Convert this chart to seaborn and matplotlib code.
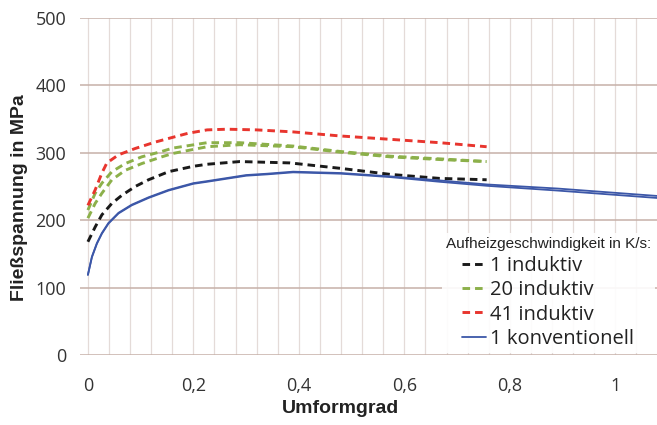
import matplotlib
matplotlib.use("Agg")
import matplotlib.pyplot as plt
import seaborn as sns
import numpy as np
import pandas as pd

# ---- data ----
x_red = [0, 0.0138, 0.0265, 0.036, 0.058, 0.090, 0.128, 0.161, 0.19, 0.226, 0.264, 0.320, 0.389, 0.478, 0.573, 0.667, 0.756]
y_red = [222, 245, 270, 285, 297, 306.5, 316, 323, 329, 334, 335, 334, 331, 325, 320, 315, 309]

x_green_a = [0, 0.0138, 0.0265, 0.0455, 0.0707, 0.102, 0.140, 0.161, 0.226, 0.288, 0.389, 0.478, 0.573, 0.667, 0.756]
y_green_a = [215, 240, 255, 272, 284, 294, 302, 307, 315, 315, 310, 302, 295, 291, 287]

x_green_b = [0, 0.0138, 0.0265, 0.0455, 0.0707, 0.102, 0.140, 0.161, 0.226, 0.288, 0.389, 0.478, 0.573, 0.667, 0.756]
y_green_b = [203, 225, 240, 260, 274, 284, 294, 299, 309, 312, 309, 301, 294, 290, 287]

x_black = [0, 0.0138, 0.0265, 0.0455, 0.0645, 0.0897, 0.115, 0.153, 0.2, 0.226, 0.288, 0.383, 0.478, 0.573, 0.667, 0.756]
y_black = [168, 190, 208, 225, 237, 250, 260, 272, 280, 283, 287, 285, 277, 268, 262, 260]

x_blue = [0, 0.0076, 0.017, 0.0265, 0.039, 0.058, 0.083, 0.115, 0.153, 0.2, 0.226, 0.3, 0.34, 0.389, 0.48, 0.573, 0.667, 0.757, 0.89, 1.079]
y_blue_a = [119, 146, 166, 181, 196, 211, 223, 234, 245, 255, 258, 267, 269, 272, 270, 265, 259, 253, 247, 236]
y_blue_b = [119, 145, 165, 180, 195, 210, 222, 233, 244, 254, 257, 266, 268, 271, 269, 264, 257, 251, 244, 233]

x_ticks = [0, 0.2, 0.4, 0.6, 0.8, 1.0]
x_ticklabels = ["0", "0,2", "0,4", "0,6", "0,8", "1"]
y_ticks = [0, 100, 200, 300, 400, 500]

labels = ["1 induktiv", "20 induktiv", "41 induktiv", "1 konventionell"]
legend_title = "Aufheizgeschwindigkeit in K/s:"

# ---- style ----
sns.set_theme(style="white")
plt.rcParams['font.family'] = ['Open Sans', 'DejaVu Sans']

fig = plt.figure(figsize=(6.57, 4.25), dpi=100)
ax = fig.add_axes([80/657, 1-355/425, 577/657, 337/425])

c_black = "#1a1a1a"
c_green = "#8cb04a"
c_red = "#e8352e"
c_blue = "#3c57a8"
dash = (2.6, 1.7)
lw_d = 2.1

sns.lineplot(x=x_black, y=y_black, ax=ax, color=c_black, lw=lw_d, label=labels[0])
ax.lines[-1].set_dashes(dash)
sns.lineplot(x=x_green_a, y=y_green_a, ax=ax, color=c_green, lw=lw_d, label=labels[1])
ax.lines[-1].set_dashes(dash)
sns.lineplot(x=x_green_b, y=y_green_b, ax=ax, color=c_green, lw=lw_d)
ax.lines[-1].set_dashes(dash)
sns.lineplot(x=x_red, y=y_red, ax=ax, color=c_red, lw=lw_d, label=labels[2])
ax.lines[-1].set_dashes(dash)
sns.lineplot(x=x_blue, y=y_blue_a, ax=ax, color=c_blue, lw=1.3, label=labels[3])
sns.lineplot(x=x_blue, y=y_blue_b, ax=ax, color=c_blue, lw=1.3)
for ln in ax.lines:
    ln.set_solid_joinstyle("round")
    ln.set_dash_joinstyle("round")

ax.set_xlim(-0.015, 1.079)
ax.set_ylim(0, 500)

# grid
for xv in np.arange(0, 1.08, 0.04):
    ax.axvline(xv, color="#e4dbd8", lw=0.9, zorder=0)
for yv in y_ticks:
    ax.axhline(yv, color="#c6b0a8", lw=1.1, zorder=0)

for s in ax.spines.values():
    s.set_visible(False)

ax.set_xticks(x_ticks)
ax.set_xticklabels(x_ticklabels)
ax.set_yticks(y_ticks)
ax.tick_params(axis="both", length=0, labelsize=13, colors="#333333")
ax.tick_params(axis="x", pad=16)
ax.tick_params(axis="y", pad=10)

ax.set_xlabel("Umformgrad", fontsize=14, fontweight="bold", family="Liberation Sans", color="#222222")
ax.set_ylabel("Fließspannung in MPa", fontsize=14, fontweight="bold", family="Liberation Sans", color="#222222")
ax.xaxis.set_label_coords(0.452, -0.135)
ax.yaxis.set_label_coords(-0.09, 0.466)

handles, labs = ax.get_legend_handles_labels()
leg = ax.legend(handles, labs, title=legend_title, loc="lower right",
                bbox_to_anchor=(1.0, 0.0), frameon=True, framealpha=0.9,
                facecolor="white", edgecolor="none", fontsize=14.5,
                handlelength=1.2, handletextpad=0.2, labelspacing=0.22,
                borderpad=0.2, borderaxespad=0.1)
leg.get_title().set_fontfamily("Liberation Sans")
leg.get_title().set_fontsize(11)
leg.get_title().set_color("#222222")
for t in leg.get_texts():
    t.set_color("#222222")

fig.savefig("out.png", dpi=100)
